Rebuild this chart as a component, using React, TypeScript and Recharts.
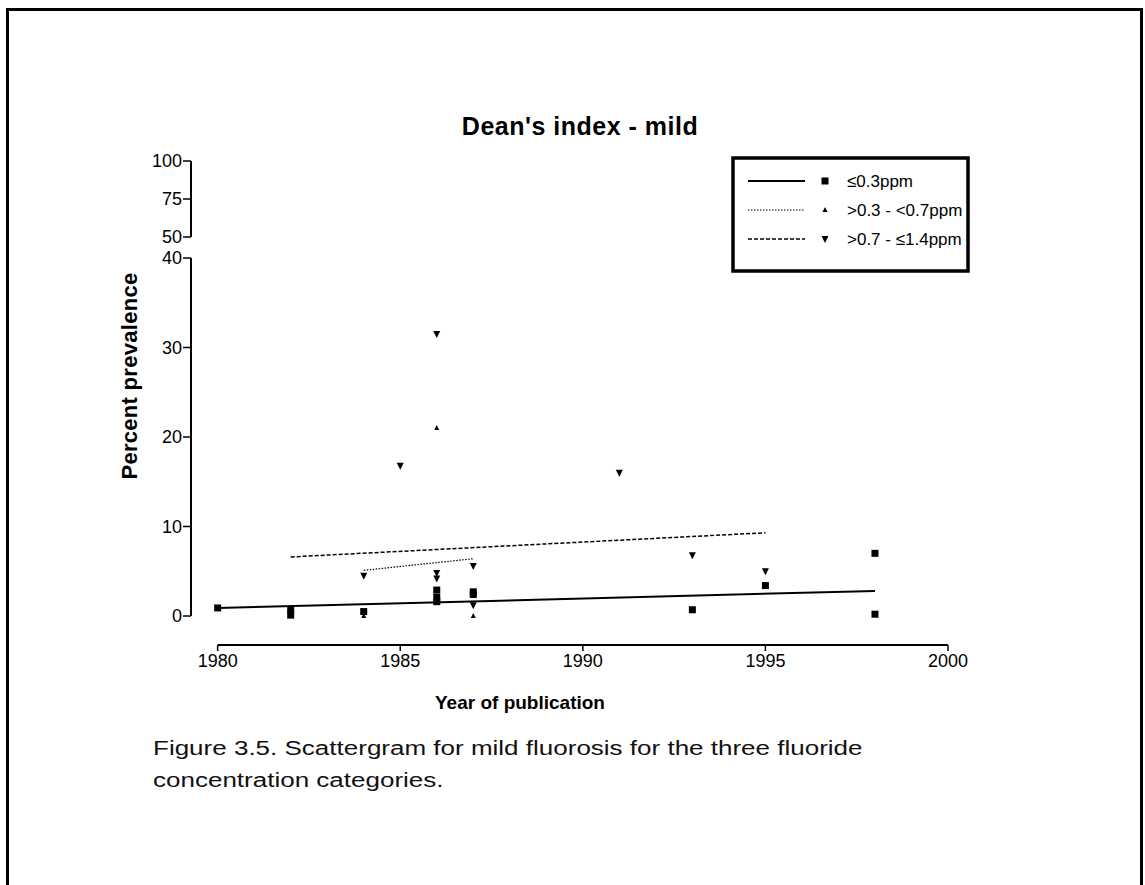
import { ScatterChart, Scatter, XAxis, YAxis, ReferenceLine } from 'recharts';

// axis layout (GraphPad-style offset axes, broken y axis)
const X_MIN = 1979.27;
const X_MAX = 2000;
const Y_MIN = -3.24;
const Y_MAX = 40;

const xTicks = [1980, 1985, 1990, 1995, 2000];
const yTicks = [0, 10, 20, 30, 40];
const upperTicks = [50, 75, 100];

// <=0.3ppm
const lowYears = [1980, 1982, 1982, 1984, 1986, 1986, 1986, 1987, 1987, 1993, 1995, 1998, 1998];
const lowValues = [0.9, 0.7, 0.1, 0.5, 2.9, 2.1, 1.6, 2.7, 2.4, 0.7, 3.4, 7.0, 0.2];
// >0.3 - <0.7ppm
const midYears = [1984, 1986, 1987];
const midValues = [0, 21.0, 0];
// >0.7 - <=1.4ppm
const highYears = [1984, 1985, 1986, 1986, 1986, 1987, 1987, 1991, 1993, 1995];
const highValues = [4.5, 16.8, 31.5, 4.8, 4.2, 5.6, 1.2, 16.0, 6.8, 5.0];

// fitted lines (end points)
const lowFitYears = [1980, 1998];
const lowFitValues = [0.9, 2.8];
const midFitYears = [1984, 1987];
const midFitValues = [5.1, 6.4];
const highFitYears = [1982, 1995];
const highFitValues = [6.6, 9.3];

const legendLabels = ['≤0.3ppm', '>0.3 - <0.7ppm', '>0.7 - ≤1.4ppm'];

const pts = (xs: number[], ys: number[]) => xs.map((x, i) => ({ x, y: ys[i] }));

const FONT = '"Liberation Sans", Arial, Helvetica, sans-serif';

const SquareDot = (p: any) => <rect x={p.cx - 3.5} y={p.cy - 3.5} width={7} height={7} fill="#000" />;
const UpDot = (p: any) => (
  <polygon points={`${p.cx},${p.cy - 3} ${p.cx - 2.5},${p.cy + 2} ${p.cx + 2.5},${p.cy + 2}`} fill="#000" />
);
const DownDot = (p: any) => (
  <polygon points={`${p.cx - 3.5},${p.cy - 3} ${p.cx + 3.5},${p.cy - 3} ${p.cx},${p.cy + 4}`} fill="#000" />
);
const NoDot = () => <g />;

const tickStyle = { fill: '#000', fontSize: 18, fontFamily: FONT };

function LegendBox() {
  const rows = [
    { dash: undefined, width: 2, Dot: SquareDot },
    { dash: '1.5 1.5', width: 1.2, Dot: UpDot },
    { dash: '4 2', width: 1.5, Dot: DownDot },
  ];
  return (
    <svg width={240} height={118} style={{ position: 'absolute', left: 731, top: 156 }}>
      <rect x={2} y={2} width={235} height={113} fill="#fff" stroke="#000" strokeWidth={3.5} />
      {rows.map((r, i) => {
        const y = 25 + i * 29;
        return (
          <g key={i}>
            <line x1={17} x2={74} y1={y} y2={y} stroke="#000" strokeWidth={r.width} strokeDasharray={r.dash} />
            <r.Dot cx={94} cy={y} />
            <text x={116} y={y + 6} fontSize={17} fontFamily={FONT} fill="#000">
              {legendLabels[i]}
            </text>
          </g>
        );
      })}
    </svg>
  );
}

export default function App() {
  return (
    <div style={{ position: 'absolute', left: 0, top: 0, width: 1145, height: 885, background: '#fff', overflow: 'hidden', fontFamily: FONT }}>
      <div style={{ position: 'absolute', left: 6, top: 8, width: 1131, height: 900, borderTop: '3px solid #000', borderLeft: '3px solid #000', borderRight: '3px solid #000' }} />

      <div style={{ position: 'absolute', left: 0, top: 112, width: 1160, textAlign: 'center', fontWeight: 'bold', fontSize: 25, letterSpacing: 0.5, color: '#000' }}>
        Dean's index - mild
      </div>

      {/* upper segment of the broken y axis */}
      <div style={{ position: 'absolute', left: 0, top: 0 }}>
        <ScatterChart width={1145} height={260} margin={{ top: 161, right: 197, bottom: 23, left: 131 }}>
          <XAxis type="number" dataKey="x" domain={[X_MIN, X_MAX]} allowDataOverflow hide />
          <YAxis
            type="number"
            dataKey="y"
            domain={[50, 100]}
            ticks={upperTicks}
            allowDataOverflow
            width={60}
            tickSize={8}
            tickMargin={1}
            tick={tickStyle}
            axisLine={{ stroke: '#000', strokeWidth: 2 }}
            tickLine={{ stroke: '#000', strokeWidth: 1.5 }}
          />
          <Scatter data={[]} isAnimationActive={false} shape={NoDot} />
        </ScatterChart>
      </div>

      {/* main segment */}
      <div style={{ position: 'absolute', left: 0, top: 0 }}>
        <ScatterChart width={1145} height={700} margin={{ top: 258, right: 197, bottom: 25, left: 131 }}>
          <XAxis
            type="number"
            dataKey="x"
            domain={[X_MIN, X_MAX]}
            ticks={xTicks}
            allowDataOverflow
            height={30}
            tickSize={6}
            tickMargin={3}
            tick={tickStyle}
            axisLine={false}
            tickLine={{ stroke: '#000', strokeWidth: 1.5 }}
          />
          <YAxis
            type="number"
            dataKey="y"
            domain={[Y_MIN, Y_MAX]}
            ticks={yTicks}
            allowDataOverflow
            width={60}
            tickSize={8}
            tickMargin={1}
            tick={tickStyle}
            axisLine={false}
            tickLine={{ stroke: '#000', strokeWidth: 1.5 }}
          />
          <ReferenceLine segment={[{ x: X_MIN, y: 0 }, { x: X_MIN, y: Y_MAX }]} stroke="#000" strokeWidth={2} ifOverflow="visible" />
          <ReferenceLine segment={[{ x: 1980, y: Y_MIN }, { x: 2000, y: Y_MIN }]} stroke="#000" strokeWidth={2} ifOverflow="visible" />

          <Scatter data={pts(lowFitYears, lowFitValues)} line={{ stroke: '#000', strokeWidth: 2 }} shape={NoDot} isAnimationActive={false} />
          <Scatter data={pts(midFitYears, midFitValues)} line={{ stroke: '#000', strokeWidth: 1.2, strokeDasharray: '1.5 1.5' }} shape={NoDot} isAnimationActive={false} />
          <Scatter data={pts(highFitYears, highFitValues)} line={{ stroke: '#000', strokeWidth: 1.5, strokeDasharray: '4 2' }} shape={NoDot} isAnimationActive={false} />

          <Scatter name="≤0.3ppm" data={pts(lowYears, lowValues)} shape={SquareDot} isAnimationActive={false} />
          <Scatter name=">0.3 - <0.7ppm" data={pts(midYears, midValues)} shape={UpDot} isAnimationActive={false} />
          <Scatter name=">0.7 - ≤1.4ppm" data={pts(highYears, highValues)} shape={DownDot} isAnimationActive={false} />
        </ScatterChart>
      </div>

      <LegendBox />

      <div
        style={{
          position: 'absolute',
          left: 130,
          top: 376,
          transform: 'translate(-50%, -50%) rotate(-90deg)',
          whiteSpace: 'nowrap',
          fontWeight: 'bold',
          fontSize: 22,
          letterSpacing: 0.3,
          color: '#000',
        }}
      >
        Percent prevalence
      </div>

      <div style={{ position: 'absolute', left: 435, top: 692, fontWeight: 'bold', fontSize: 19, color: '#000', whiteSpace: 'nowrap' }}>
        Year of publication
      </div>

      <div
        style={{
          position: 'absolute',
          left: 153,
          top: 732,
          fontSize: 20,
          lineHeight: '32px',
          color: '#111',
          whiteSpace: 'nowrap',
          transform: 'scaleX(1.3)',
          transformOrigin: 'left top',
        }}
      >
        Figure 3.5. Scattergram for mild fluorosis for the three fluoride
        <br />
        concentration categories.
      </div>
    </div>
  );
}
